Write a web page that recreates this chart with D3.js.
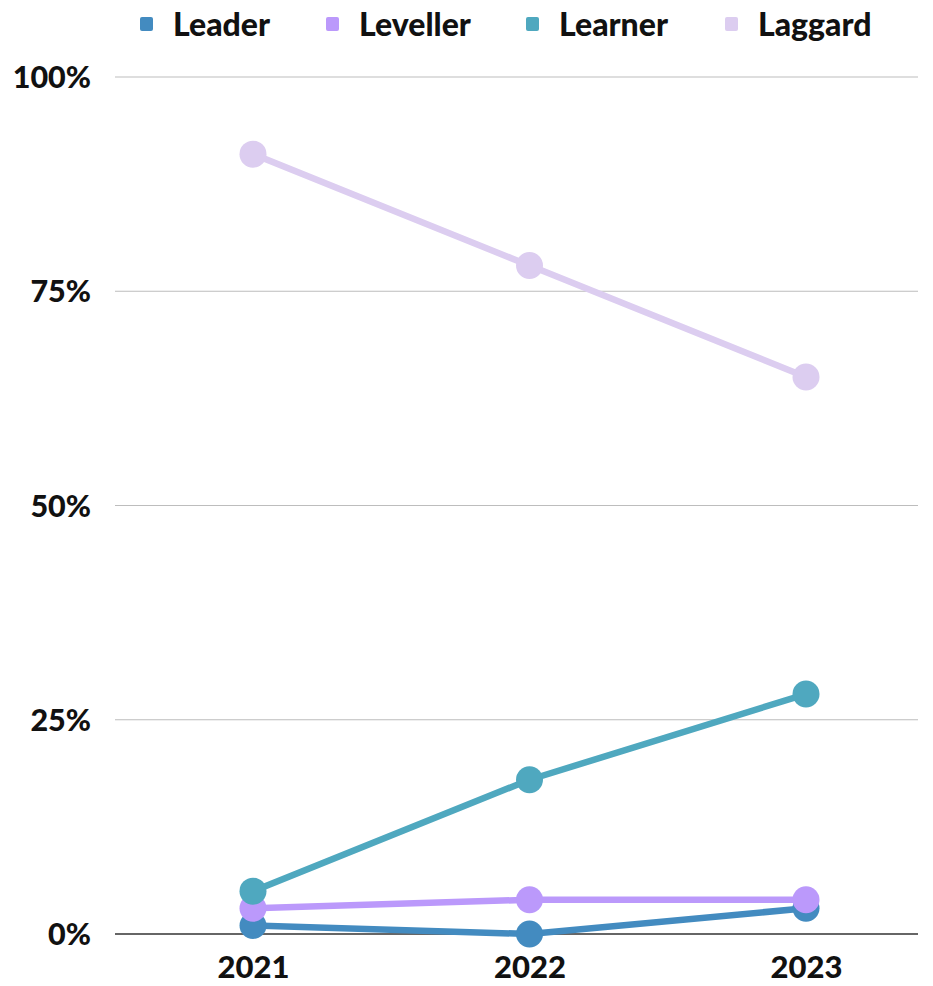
<!DOCTYPE html>
<html>
<head>
<meta charset="utf-8">
<script src="https://cdn.jsdelivr.net/npm/d3@7"></script>
<style>
  html, body { margin: 0; padding: 0; background: #fff; }
  svg { display: block; font-family: Lato, "Noto Sans", sans-serif; }
</style>
</head>
<body>
<svg id="chart" width="933" height="986"></svg>
<script>
// Share of organisations in each maturity segment, by survey year
const years = ["2021", "2022", "2023"];
const seriesNames = ["Leader", "Leveller", "Learner", "Laggard"];
const seriesColors = ["#438bc0", "#bb99fb", "#4fa8bf", "#dccdf0"];
const leader = [1, 0, 3];
const leveller = [3, 4, 4];
const learner = [5, 18, 28];
const laggard = [91, 78, 65];
const yTicks = [0, 25, 50, 75, 100];

const seriesValues = [leader, leveller, learner, laggard];

const svg = d3.select("#chart");
const margin = { left: 115, right: 15, top: 77, bottom: 52 };
const W = 933, H = 986;

const x = d3.scalePoint().domain(years).range([253, 806]);
const y = d3.scaleLinear().domain([0, 100]).range([934, 77]);

// horizontal gridlines
const gridG = svg.append("g");
gridG.selectAll("line").data(yTicks.filter(d => d > 0)).join("line")
  .attr("x1", margin.left).attr("x2", W - margin.right)
  .attr("y1", d => y(d)).attr("y2", d => y(d))
  .attr("stroke", "#bdbdbd").attr("stroke-width", 1.2);

// baseline
svg.append("line")
  .attr("x1", margin.left).attr("x2", W - margin.right)
  .attr("y1", y(0)).attr("y2", y(0))
  .attr("stroke", "#666").attr("stroke-width", 2);

// y axis labels
const yAxis = d3.axisLeft(y).tickValues(yTicks).tickFormat(d => d + "%").tickSize(0).tickPadding(0);
const yG = svg.append("g").attr("transform", "translate(91,0)").call(yAxis);
yG.select(".domain").remove();
yG.selectAll("text")
  .attr("font-family", "Lato, sans-serif")
  .attr("font-weight", 900)
  .attr("font-size", 30.5)
  .attr("fill", "#111")
  .attr("dy", "0.35em");

// x axis labels
const xAxis = d3.axisBottom(x).tickSize(0).tickPadding(0);
const xG = svg.append("g").attr("transform", "translate(0,956)").call(xAxis);
xG.select(".domain").remove();
xG.selectAll("text")
  .attr("font-family", "Lato, sans-serif")
  .attr("font-weight", 900)
  .attr("font-size", 31)
  .attr("fill", "#111")
  .attr("dy", "0.71em");

// series lines and points, later series on top
const line = d3.line().x((d, i) => x(years[i])).y(d => y(d));
seriesValues.forEach((vals, si) => {
  const g = svg.append("g");
  g.append("path").datum(vals)
    .attr("d", line)
    .attr("fill", "none")
    .attr("stroke", seriesColors[si])
    .attr("stroke-width", 6.5)
    .attr("stroke-linejoin", "round");
  g.selectAll("circle").data(vals).join("circle")
    .attr("cx", (d, i) => x(years[i]))
    .attr("cy", d => y(d))
    .attr("r", 13.5)
    .attr("fill", seriesColors[si]);
});

// legend
const legendX = [140, 326, 526, 725];
const legend = svg.append("g");
seriesNames.forEach((name, i) => {
  const lg = legend.append("g").attr("transform", `translate(${legendX[i]},0)`);
  lg.append("rect").attr("x", 0).attr("y", 17).attr("width", 13).attr("height", 14)
    .attr("rx", 2).attr("fill", seriesColors[i]);
  lg.append("text").attr("x", 33).attr("y", 36)
    .attr("font-family", "Lato, sans-serif")
    .attr("font-weight", 900)
    .attr("font-size", 32)
    .attr("fill", "#111")
    .text(name);
});
</script>
</body>
</html>
